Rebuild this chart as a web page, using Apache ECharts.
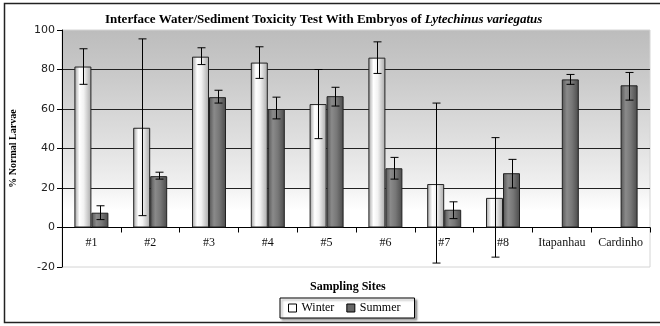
<!DOCTYPE html>
<html>
<head>
<meta charset="utf-8">
<script src="https://cdn.jsdelivr.net/npm/echarts@6/dist/echarts.min.js"></script>
<style>
html,body{margin:0;padding:0;background:#fff;}
#chart{width:660px;height:326px;}
</style>
</head>
<body>
<div id="chart"></div>
<script>
const categories = ['#1','#2','#3','#4','#5','#6','#7','#8','Itapanhau','Cardinho'];
const winter     = [81.5, 50.5, 86.5, 83.5, 62.5, 86, 22, 15, null, null];
const winterLow  = [72.5, 6, 82.5, 75.5, 45, 78, -18, -15, null, null];
const winterHigh = [90.5, 95.5, 91, 91.5, 80, 94, 63, 45.5, null, null];
const summer     = [7.5, 26, 66, 60, 66.5, 30, 9, 27.5, 75, 72];
const summerLow  = [4, 24.5, 63, 55, 61.5, 24.5, 4.5, 20, 72.5, 64.5];
const summerHigh = [11, 28, 69.5, 66, 71, 35.5, 13, 34.5, 77.5, 78.5];
const yTicks = [-20, 0, 20, 40, 60, 80, 100];

const BAR_W = 17;
const GRID_TOP = 30, GRID_BOTTOM = 59, CHART_H = 326;
const Y_MIN = -20, Y_MAX = 100;
// distance from grid bottom to the zero line, derived from the axis scale
const ZERO_OFFSET = (CHART_H - GRID_TOP - GRID_BOTTOM) * (0 - Y_MIN) / (Y_MAX - Y_MIN);

function errData(lo, hi) {
  const out = [];
  for (let i = 0; i < categories.length; i++) {
    if (lo[i] != null && hi[i] != null) out.push([i, lo[i], hi[i]]);
  }
  return out;
}

function makeErrRender(offset) {
  return function (params, api) {
    const cat = api.value(0);
    const p1 = api.coord([cat, api.value(1)]);
    const p2 = api.coord([cat, api.value(2)]);
    const x = Math.round(p1[0] + offset) + 0.5;
    const cap = 4;
    const st = { stroke: '#000', lineWidth: 1 };
    return {
      type: 'group',
      children: [
        { type: 'line', shape: { x1: x, y1: p1[1], x2: x, y2: p2[1] }, style: st },
        { type: 'line', shape: { x1: x - cap, y1: p1[1], x2: x + cap, y2: p1[1] }, style: st },
        { type: 'line', shape: { x1: x - cap, y1: p2[1], x2: x + cap, y2: p2[1] }, style: st }
      ]
    };
  };
}

const chart = echarts.init(document.getElementById('chart'));
const serif = 'Liberation Serif';

chart.setOption({
  animation: false,
  backgroundColor: '#fff',
  title: [
    {
      text: '{a|Interface Water/Sediment Toxicity Test With Embryos of }{b|Lytechinus variegatus}',
      left: 100, top: 8,
      textStyle: {
        rich: {
          a: { fontFamily: serif, fontWeight: 'bold', fontSize: 13, color: '#000' },
          b: { fontFamily: serif, fontStyle: 'italic', fontSize: 13, color: '#000' }
        }
      }
    },
    {
      text: 'Sampling Sites',
      left: 305, top: 276,
      textStyle: { fontFamily: serif, fontWeight: 'bold', fontSize: 12, color: '#000' }
    }
  ],
  legend: {
    data: [
      { name: 'Winter', itemStyle: { color: '#fff', borderColor: '#000', borderWidth: 1 } },
      { name: 'Summer', itemStyle: { color: '#666', borderColor: '#000', borderWidth: 1 } }
    ],
    left: 280, top: 298,
    orient: 'horizontal',
    icon: 'rect',
    itemWidth: 8, itemHeight: 8, itemGap: 12,
    padding: [4, 14, 4, 8],
    borderColor: '#000', borderWidth: 1,
    shadowColor: 'rgba(0,0,0,0.35)', shadowOffsetX: 2, shadowOffsetY: 2, shadowBlur: 2,
    backgroundColor: '#fff',
    textStyle: { fontFamily: serif, fontSize: 12, color: '#000' }
  },
  graphic: [
    {
      type: 'rect', z: 100, silent: true,
      shape: { x: 4.5, y: 3.5, width: 660, height: 319 },
      style: { fill: 'none', stroke: '#222', lineWidth: 1.5 }
    }
  ],
  grid: {
    left: 61, right: 10, top: GRID_TOP, bottom: GRID_BOTTOM,
    show: true,
    borderColor: '#d4d4d4', borderWidth: 1,
    backgroundColor: {
      type: 'linear', x: 0, y: 0, x2: 0, y2: 1,
      colorStops: [
        { offset: 0, color: '#bcbcbc' },
        { offset: 0.2, color: '#cacaca' },
        { offset: 0.45, color: '#dedede' },
        { offset: 0.65, color: '#f0f0f0' },
        { offset: 0.76, color: '#ffffff' },
        { offset: 1, color: '#ffffff' }
      ]
    }
  },
  xAxis: {
    type: 'category',
    data: categories,
    position: 'bottom',
    offset: -ZERO_OFFSET,
    axisLine: { onZero: false, lineStyle: { color: '#000', width: 1 } },
    axisTick: { show: true, inside: false, length: 5, alignWithLabel: false, lineStyle: { color: '#000' } },
    axisLabel: { fontFamily: serif, fontSize: 12, color: '#111', margin: 9, interval: 0 },
    splitLine: { show: false }
  },
  yAxis: {
    type: 'value',
    min: Y_MIN, max: Y_MAX, interval: 20,
    name: '% Normal Larvae',
    nameLocation: 'middle',
    nameGap: 44,
    nameTextStyle: { fontFamily: serif, fontWeight: 'bold', fontSize: 10, color: '#000' },
    axisLine: { show: true, lineStyle: { color: '#000', width: 1 } },
    axisTick: { show: true, length: 5, lineStyle: { color: '#000' } },
    axisLabel: { fontFamily: 'DejaVu Sans', fontSize: 11, color: '#222', margin: 7,
      formatter: function (v) { return yTicks.indexOf(v) >= 0 ? String(v) : ''; } },
    splitLine: {
      show: true, showMinLine: false, showMaxLine: false,
      lineStyle: { color: '#222', width: 1 }
    }
  },
  series: [
    {
      name: 'Winter', type: 'bar', data: winter,
      barWidth: BAR_W, barGap: '0%',
      itemStyle: {
        borderColor: '#222', borderWidth: 1,
        color: {
          type: 'linear', x: 0, y: 0, x2: 1, y2: 0,
          colorStops: [
            { offset: 0, color: '#a0a0a0' },
            { offset: 0.3, color: '#ffffff' },
            { offset: 0.55, color: '#f2f2f2' },
            { offset: 1, color: '#a8a8a8' }
          ]
        }
      },
      z: 2
    },
    {
      name: 'Summer', type: 'bar', data: summer,
      barWidth: BAR_W, barGap: '0%',
      itemStyle: {
        borderColor: '#222', borderWidth: 1,
        color: {
          type: 'linear', x: 0, y: 0, x2: 1, y2: 0,
          colorStops: [
            { offset: 0, color: '#555' },
            { offset: 0.3, color: '#8a8a8a' },
            { offset: 0.6, color: '#777' },
            { offset: 1, color: '#4a4a4a' }
          ]
        }
      },
      z: 2
    },
    {
      name: 'WinterErr', type: 'custom', data: errData(winterLow, winterHigh),
      renderItem: makeErrRender(-BAR_W / 2), encode: { x: 0, y: [1, 2] }, z: 5, silent: true
    },
    {
      name: 'SummerErr', type: 'custom', data: errData(summerLow, summerHigh),
      renderItem: makeErrRender(BAR_W / 2), encode: { x: 0, y: [1, 2] }, z: 5, silent: true
    }
  ]
});
</script>
</body>
</html>
